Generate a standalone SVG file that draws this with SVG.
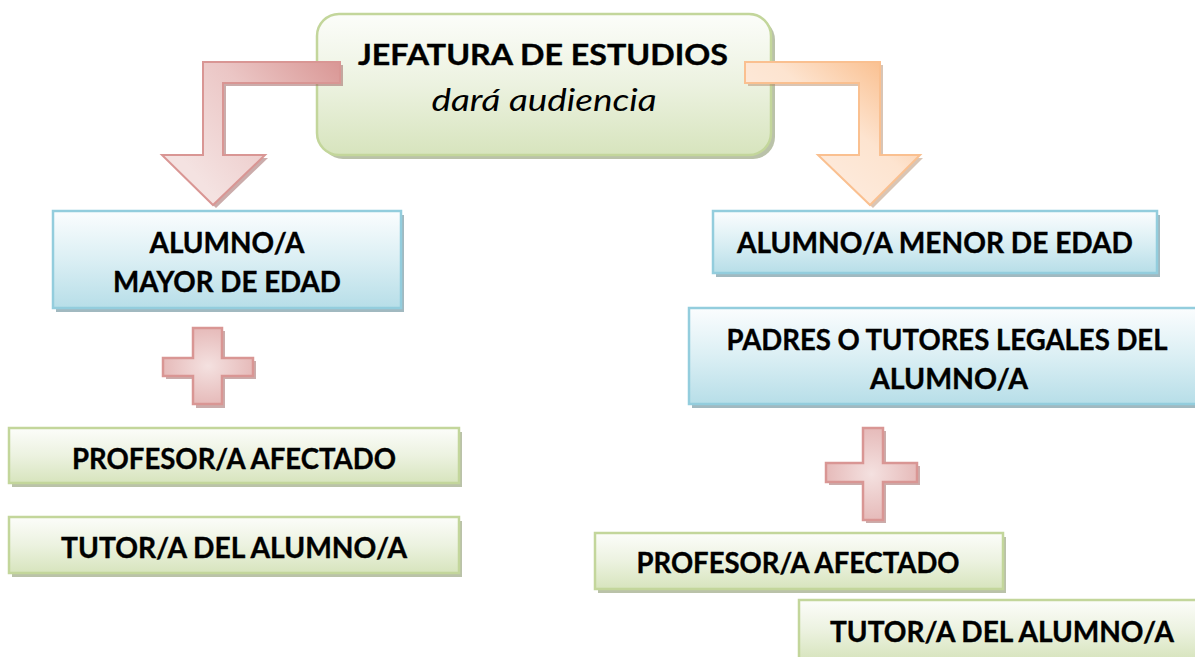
<svg xmlns="http://www.w3.org/2000/svg" width="1195" height="657" viewBox="0 0 1195 657">
<defs>
<linearGradient id="gGreen" x1="0" y1="0" x2="0" y2="1">
<stop offset="0" stop-color="#fcfdfa"/><stop offset="0.5" stop-color="#ecf2e0"/><stop offset="1" stop-color="#d7e4bd"/>
</linearGradient>
<linearGradient id="gBlue" x1="0" y1="0" x2="0" y2="1">
<stop offset="0" stop-color="#fbfdfe"/><stop offset="0.5" stop-color="#dbeff4"/><stop offset="1" stop-color="#b7dee8"/>
</linearGradient>
<linearGradient id="gPink" gradientUnits="userSpaceOnUse" x1="200" y1="180" x2="340" y2="60">
<stop offset="0" stop-color="#f4e2e1"/><stop offset="0.5" stop-color="#ebc6c5"/><stop offset="1" stop-color="#d99694"/>
</linearGradient>
<linearGradient id="gOrange" gradientUnits="userSpaceOnUse" x1="780" y1="180" x2="880" y2="60">
<stop offset="0" stop-color="#fdeee3"/><stop offset="0.55" stop-color="#fde4d0"/><stop offset="1" stop-color="#fac090"/>
</linearGradient>
<radialGradient id="gPlus" cx="0.5" cy="0.5" r="0.6">
<stop offset="0" stop-color="#f4e1e0"/><stop offset="1" stop-color="#e3b3b2"/>
</radialGradient>
<style>
.txt{font-family:Lato,"Open Sans","Liberation Sans",sans-serif;font-weight:bold;font-size:28px;fill:#000;stroke:#000;stroke-width:0.35;text-anchor:middle}
.ital{font-family:Lato,"Open Sans","Liberation Sans",sans-serif;font-style:italic;font-size:31px;fill:#000;text-anchor:middle}
.boxG{fill:url(#gGreen);stroke:#c3d69b;stroke-width:2.5}
.boxB{fill:url(#gBlue);stroke:#93cddd;stroke-width:2.5}
.shG{fill:#8c9a70;opacity:0.6}
.shB{fill:#6f949e;opacity:0.65}
.shP{fill:#a06866;opacity:0.55}
.shO{fill:#b48c6c;opacity:0.5}
.plus{fill:url(#gPlus);stroke:#d99694;stroke-width:2.5}
</style>
</defs>

<g id="jefatura">
<rect x="321" y="18" width="454" height="141" rx="22" class="shG"/>
<rect x="317" y="14" width="454" height="141" rx="22" class="boxG"/>
<text class="txt" x="543" y="65" font-size="31" textLength="370" lengthAdjust="spacingAndGlyphs">JEFATURA DE ESTUDIOS</text>
<text class="ital" x="544" y="111" textLength="225" lengthAdjust="spacingAndGlyphs">dará audiencia</text>
</g>

<g id="connectors">
<polygon class="shP" points="343,65 206,65 206,158 165,158 216,208 268,158 226,158 226,86 343,86"/>
<polygon points="340,62 203,62 203,155 162,155 213,205 265,155 223,155 223,83 340,83" fill="url(#gPink)" stroke="#d99694" stroke-width="2"/>
<polygon class="shO" points="748,65 883,65 883,158 923,158 873,208 821,158 862,158 862,86 748,86"/>
<polygon points="745,62 880,62 880,155 920,155 870,205 818,155 859,155 859,83 745,83" fill="url(#gOrange)" stroke="#fac090" stroke-width="2"/>
</g>

<g id="mayor">
<rect x="56" y="215" width="348" height="97" class="shB"/>
<rect x="53" y="211" width="348" height="97" class="boxB"/>
<text class="txt" x="227" y="253" textLength="155" lengthAdjust="spacingAndGlyphs">ALUMNO/A</text>
<text class="txt" x="227" y="292" textLength="228" lengthAdjust="spacingAndGlyphs">MAYOR DE EDAD</text>
</g>

<g id="plus-left">
<path class="shP" d="M196,331 h29 v30 h31 v18 h-31 v29 h-29 v-29 h-30 v-18 h30 z"/>
<path class="plus" d="M193,328 h29 v30 h31 v18 h-31 v28 h-29 v-28 h-30 v-18 h30 z"/>
</g>

<g id="profesor-left">
<rect x="12" y="432" width="450" height="55" class="shG"/>
<rect x="9" y="428" width="450" height="55" class="boxG"/>
<text class="txt" x="234" y="469" textLength="324" lengthAdjust="spacingAndGlyphs">PROFESOR/A AFECTADO</text>
</g>

<g id="tutor-left">
<rect x="12" y="521" width="450" height="56" class="shG"/>
<rect x="9" y="517" width="450" height="56" class="boxG"/>
<text class="txt" x="234" y="558" textLength="346" lengthAdjust="spacingAndGlyphs">TUTOR/A DEL ALUMNO/A</text>
</g>

<g id="menor">
<rect x="716" y="215" width="444" height="62" class="shB"/>
<rect x="713" y="211" width="444" height="62" class="boxB"/>
<text class="txt" x="935" y="253" textLength="396" lengthAdjust="spacingAndGlyphs">ALUMNO/A MENOR DE EDAD</text>
</g>

<g id="padres">
<rect x="692" y="312" width="516" height="96" class="shB"/>
<rect x="689" y="308" width="516" height="96" class="boxB"/>
<text class="txt" x="947" y="350" textLength="441" lengthAdjust="spacingAndGlyphs">PADRES O TUTORES LEGALES DEL</text>
<text class="txt" x="949" y="389" textLength="158" lengthAdjust="spacingAndGlyphs">ALUMNO/A</text>
</g>

<g id="plus-right">
<path class="shP" d="M866,431 h20 v35 h34 v19 h-34 v38 h-20 v-38 h-37 v-19 h37 z"/>
<path class="plus" d="M863,428 h20 v35 h34 v19 h-34 v38 h-20 v-38 h-37 v-19 h37 z"/>
</g>

<g id="profesor-right">
<rect x="598" y="537" width="408" height="56" class="shG"/>
<rect x="595" y="533" width="408" height="56" class="boxG"/>
<text class="txt" x="798" y="573" textLength="323" lengthAdjust="spacingAndGlyphs">PROFESOR/A AFECTADO</text>
</g>

<g id="tutor-right">
<rect x="802" y="604" width="406" height="60" class="shG"/>
<rect x="799" y="600" width="406" height="60" class="boxG"/>
<text class="txt" x="1002" y="642" textLength="344" lengthAdjust="spacingAndGlyphs">TUTOR/A DEL ALUMNO/A</text>
</g>
</svg>
